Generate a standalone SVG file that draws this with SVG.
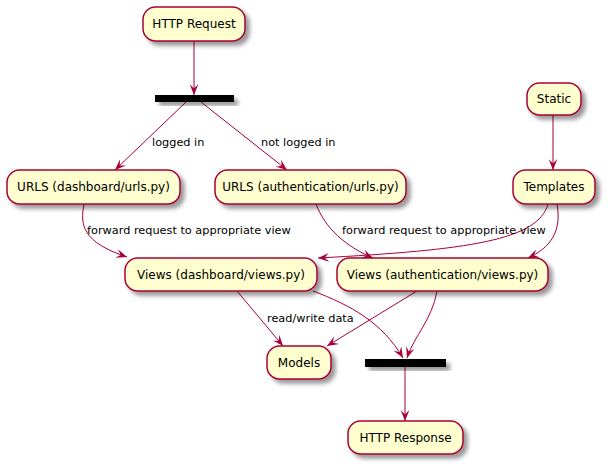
<svg xmlns="http://www.w3.org/2000/svg" width="608" height="467" viewBox="0 0 608 467">
<defs>
<filter id="sh" x="-20%" y="-30%" width="150%" height="180%">
<feGaussianBlur in="SourceAlpha" stdDeviation="2" result="b"/>
<feOffset dx="4" dy="4" in="b" result="o"/>
<feColorMatrix in="o" type="matrix" values="0 0 0 0 0  0 0 0 0 0  0 0 0 0 0  0 0 0 0.4 0" result="c"/>
<feMerge><feMergeNode in="c"/><feMergeNode in="SourceGraphic"/></feMerge>
</filter>
<marker id="ah" viewBox="0 0 10 8" refX="10" refY="4" markerWidth="11" markerHeight="9" markerUnits="userSpaceOnUse" orient="auto">
<path d="M0,0 L10,4 L0,8 L4,4 Z" fill="#A80036"/>
</marker>
</defs>
<style>
.n{fill:#FEFECE;stroke:#A80036;stroke-width:1.5;filter:url(#sh)}
.bar{fill:#000;filter:url(#sh)}
.t{font-family:"DejaVu Sans",sans-serif;font-size:12px;fill:#000;text-anchor:middle}
.l{font-family:"DejaVu Sans",sans-serif;font-size:11.3px;fill:#000}
.e{fill:none;stroke:#A80036;stroke-width:1;marker-end:url(#ah)}
</style>
<g id="connectors">
<path class="e" d="M194,41 L194,95"/>
<path class="e" d="M186,102 L115,170"/>
<path class="e" d="M201,102 L287,170"/>
<path class="e" d="M553,115 L553,170"/>
<path class="e" d="M84,204 C80,225 82,242 127,257"/>
<path class="e" d="M316,204 C325,228 345,246 373,258"/>
<path class="e" d="M548,204 C538,240 470,250 318,258"/>
<path class="e" d="M557,204 C562,232 550,248 528,258"/>
<path class="e" d="M237,291 L283,346"/>
<path class="e" d="M313,291 C350,305 382,322 403,358"/>
<path class="e" d="M417,291 L327,346"/>
<path class="e" d="M437,291 C432,320 414,336 407,358"/>
<path class="e" d="M405,367 L405,421"/>
<text class="l" x="152" y="146">logged in</text>
<text class="l" x="261" y="146">not logged in</text>
<text class="l" x="87" y="234">forward request to appropriate view</text>
<text class="l" x="342" y="234">forward request to appropriate view</text>
<text class="l" x="267" y="322">read/write data</text>
</g>
<g id="http-request"><rect class="n" x="143" y="7" width="102" height="34" rx="12.5"/><text class="t" x="194" y="28">HTTP Request</text></g>
<g id="fork1"><rect class="bar" x="155" y="95" width="79" height="7"/></g>
<g id="urls-dashboard"><rect class="n" x="7" y="170" width="173" height="34" rx="12.5"/><text class="t" x="93.5" y="191">URLS (dashboard/urls.py)</text></g>
<g id="urls-authentication"><rect class="n" x="215" y="170" width="191" height="34" rx="12.5"/><text class="t" x="310.5" y="191">URLS (authentication/urls.py)</text></g>
<g id="static"><rect class="n" x="527" y="83" width="54" height="32" rx="12.5"/><text class="t" x="554" y="103">Static</text></g>
<g id="templates"><rect class="n" x="513" y="170" width="82" height="34" rx="12.5"/><text class="t" x="554" y="191">Templates</text></g>
<g id="views-dashboard"><rect class="n" x="125" y="258" width="192" height="33" rx="12.5"/><text class="t" x="221" y="279">Views (dashboard/views.py)</text></g>
<g id="views-authentication"><rect class="n" x="337" y="258" width="211" height="33" rx="12.5"/><text class="t" x="442.5" y="279">Views (authentication/views.py)</text></g>
<g id="models"><rect class="n" x="267" y="346" width="64" height="33" rx="12.5"/><text class="t" x="299" y="367">Models</text></g>
<g id="join2"><rect class="bar" x="365" y="359" width="81" height="8"/></g>
<g id="http-response"><rect class="n" x="348" y="421" width="115" height="33" rx="12.5"/><text class="t" x="405.5" y="442">HTTP Response</text></g>
</svg>
